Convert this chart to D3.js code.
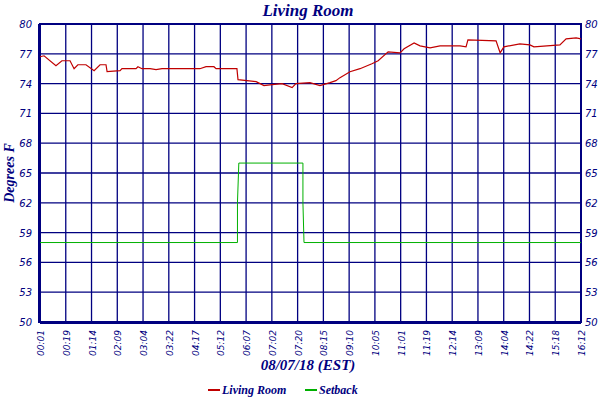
<!DOCTYPE html>
<html>
<head>
<meta charset="utf-8">
<script src="https://cdn.jsdelivr.net/npm/d3@7"></script>
<style>
  body { margin: 0; background: #fff; }
  text { fill: #000080; font-family: "DejaVu Sans", sans-serif; font-style: italic; }
</style>
</head>
<body>
<div id="chart"></div>
<script>
// Time labels (one per grid line, 21 intervals)
const timeLabels = ['00:01', '00:19', '01:14', '02:09', '03:04', '03:22', '04:17', '05:12', '06:07', '07:02',
    '07:20', '08:15', '09:10', '10:05', '11:01', '11:19', '12:14', '13:09', '14:04', '14:22', '15:18', '16:12'];
const yTicks = [50, 53, 56, 59, 62, 65, 68, 71, 74, 77, 80];

// Living room temperature; position is measured along the time span (0 = start, 20 = end)
const roomPos = [0, 0.15, 0.59, 0.81, 1.11, 1.26, 1.40, 1.70, 2.00, 2.22, 2.44, 2.48, 2.96, 3.03, 3.55, 3.62, 3.77,
    4.07, 4.29, 4.51, 5.18, 5.91, 6.14, 6.43, 6.51, 7.28, 7.32, 7.99, 8.28, 8.58, 8.95, 9.32, 9.46, 9.98, 10.35,
    10.72, 10.94, 11.09, 11.46, 11.83, 12.27, 12.50, 12.87, 13.31, 13.46, 13.83, 14.05, 14.42, 14.79, 15.53, 15.75,
    15.82, 16.86, 17.01, 17.15, 17.74, 18.11, 18.26, 19.22, 19.45, 19.82, 20];
const roomTemp = [76.7, 76.8, 75.8, 76.3, 76.3, 75.5, 75.9, 75.9, 75.3, 75.9, 75.9, 75.2, 75.3, 75.5, 75.5, 75.7, 75.5,
    75.5, 75.4, 75.5, 75.5, 75.5, 75.7, 75.7, 75.5, 75.5, 74.4, 74.2, 73.8, 73.9, 74.0, 73.6, 74.0, 74.1, 73.8,
    74.1, 74.3, 74.6, 75.2, 75.5, 76.0, 76.3, 77.2, 77.1, 77.5, 78.1, 77.8, 77.6, 77.8, 77.8, 77.7,
    78.4, 78.3, 77.1, 77.7, 78.0, 77.9, 77.7, 77.9, 78.5, 78.6, 78.5];

// Setback schedule
const setbackPos = [0, 7.30, 7.30, 7.35, 9.72, 9.72, 9.76, 20];
const setbackTemp = [58, 58, 62, 66, 66, 62, 58, 58];

const width = 600, height = 400;
const margin = { left: 40, right: 19, top: 24, bottom: 78 };

const svg = d3.select('#chart').append('svg')
    .attr('width', width)
    .attr('height', height);

const x = d3.scaleLinear().domain([0, 20]).range([margin.left, width - margin.right]);
const y = d3.scaleLinear().domain([50, 80]).range([height - margin.bottom, margin.top]);
const nSlots = timeLabels.length - 1;
const slotX = i => x(i * 20 / nSlots);

// Grid
const grid = svg.append('g').attr('stroke', '#000080').attr('stroke-width', 1.3);
d3.range(1, nSlots).forEach(i => {
    grid.append('line').attr('x1', slotX(i)).attr('x2', slotX(i)).attr('y1', y(80)).attr('y2', y(50));
});
yTicks.slice(1, -1).forEach(t => {
    grid.append('line').attr('x1', x(0)).attr('x2', x(20)).attr('y1', y(t)).attr('y2', y(t));
});

// Frame
svg.append('rect')
    .attr('x', x(0)).attr('y', y(80))
    .attr('width', x(20) - x(0)).attr('height', y(50) - y(80))
    .attr('fill', 'none').attr('stroke', '#000080').attr('stroke-width', 2);
svg.append('line').attr('x1', x(0) - 1).attr('x2', x(0) - 1).attr('y1', y(80)).attr('y2', y(50) + 1)
    .attr('stroke', '#000080').attr('stroke-width', 2);
svg.append('line').attr('x1', x(0)).attr('x2', x(20)).attr('y1', y(50) + 1).attr('y2', y(50) + 1)
    .attr('stroke', '#000080').attr('stroke-width', 2);

// Y labels both sides
yTicks.forEach(t => {
    svg.append('text').attr('x', x(0) - 8).attr('y', y(t) + 4)
        .attr('text-anchor', 'end').attr('font-size', 10).text(t);
    svg.append('text').attr('x', x(20) + 4).attr('y', y(t) + 4)
        .attr('font-size', 10).text(t);
});

// X labels, rotated
timeLabels.forEach((lab, i) => {
    svg.append('text')
        .attr('transform', `translate(${slotX(i) + 4},${y(50) + 8}) rotate(-90)`)
        .attr('text-anchor', 'end').attr('font-size', 9).text(lab);
});

const line = d3.line().x(d => x(d[0])).y(d => y(d[1]));

svg.append('path')
    .datum(d3.zip(setbackPos, setbackTemp))
    .attr('d', line).attr('fill', 'none').attr('stroke', '#00b000').attr('stroke-width', 1);

svg.append('path')
    .datum(d3.zip(roomPos, roomTemp))
    .attr('d', line).attr('fill', 'none').attr('stroke', '#c00000').attr('stroke-width', 1.2);

// Titles
const titleFont = '"Liberation Serif", serif';
svg.append('text').attr('x', 308).attr('y', 16).attr('text-anchor', 'middle')
    .attr('font-size', 17).attr('font-weight', 'bold').style('font-family', titleFont).text('Living Room');
svg.append('text').attr('transform', `translate(14,${(y(50) + y(80)) / 2}) rotate(-90)`)
    .attr('text-anchor', 'middle').attr('font-size', 14).attr('font-weight', 'bold')
    .style('font-family', titleFont).text('Degrees F');
svg.append('text').attr('x', 308).attr('y', 370).attr('text-anchor', 'middle')
    .attr('font-size', 15).attr('font-weight', 'bold').style('font-family', titleFont).text('08/07/18 (EST)');

// Legend
const legend = [['Living Room', '#c00000', 208], ['Setback', '#00b000', 305]];
legend.forEach(([name, color, lx]) => {
    svg.append('line').attr('x1', lx).attr('x2', lx + 12).attr('y1', 390).attr('y2', 390)
        .attr('stroke', color).attr('stroke-width', 2);
    svg.append('text').attr('x', lx + 14).attr('y', 394).attr('font-size', 12).attr('font-weight', 'bold')
        .style('font-family', titleFont).text(name);
});
</script>
</body>
</html>
